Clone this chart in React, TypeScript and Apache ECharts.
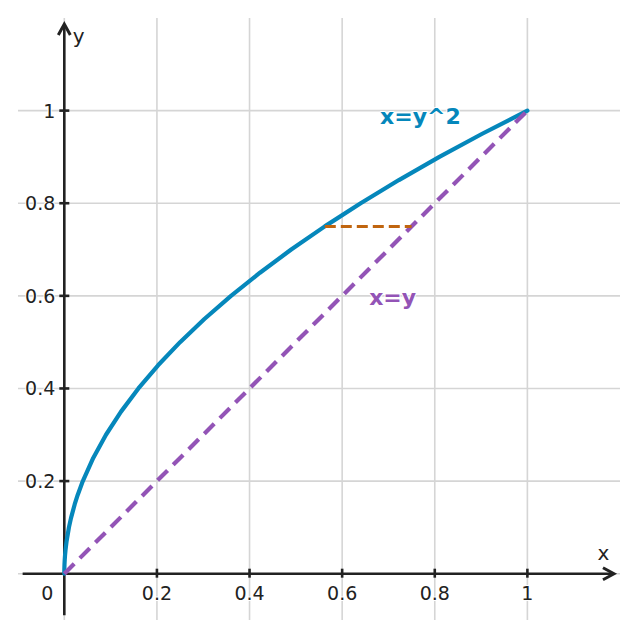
import React, { useEffect, useRef } from "react";
import * as echarts from "echarts";

// ---- data ----
const gridValues = [0, 0.2, 0.4, 0.6, 0.8, 1];
const tickValues = [0.2, 0.4, 0.6, 0.8, 1];
const tickLabels = ["0.2", "0.4", "0.6", "0.8", "1"];
// curve x = y^2 (points listed as [x, y])
const curvePoints: [number, number][] = [
  [0, 0], [0.000025, 0.005], [0.0001, 0.01], [0.0004, 0.02], [0.0009, 0.03], [0.0016, 0.04],
  [0.0025, 0.05], [0.0049, 0.07], [0.01, 0.1], [0.0144, 0.12], [0.0225, 0.15], [0.0289, 0.17],
  [0.04, 0.2], [0.0625, 0.25], [0.09, 0.3], [0.1225, 0.35], [0.16, 0.4], [0.2025, 0.45],
  [0.25, 0.5], [0.3025, 0.55], [0.36, 0.6], [0.4225, 0.65], [0.49, 0.7], [0.5625, 0.75],
  [0.64, 0.8], [0.7225, 0.85], [0.81, 0.9], [0.9025, 0.95], [1, 1],
];
const diagonalPoints: [number, number][] = [[0, 0], [1, 1]];
const levelPoints: [number, number][] = [[0.5625, 0.75], [0.75, 0.75]];
const curveLabel: [number, number, string] = [0.769, 0.987, "x=y^2"];
const diagLabel: [number, number, string] = [0.709, 0.597, "x=y"];
const axisNames: [number, number, string][] = [[1.164, 0.045, "x"], [0.031, 1.162, "y"]];

const BLUE = "#0587bb";
const PURPLE = "#9354b6";
const ORANGE = "#c0650f";
const AXIS = "#222222";
const GRID = "#d5d5d5";
const FONT = "DejaVu Sans";

export default function App() {
  const ref = useRef<HTMLDivElement>(null);
  useEffect(() => {
    if (!ref.current) return;
    const chart = echarts.init(ref.current, null, { renderer: "svg" });
    const tickLabelStyle = {
      show: true, position: "inside",
      formatter: (p: any) => p.value[2],
      color: "#222", fontFamily: FONT, fontSize: 19,
      textBorderColor: "#fff", textBorderWidth: 2,
    };
    const option: any = {
      animation: false,
      backgroundColor: "#ffffff",
      grid: { left: 18, right: 18, top: 18, bottom: 18 },
      xAxis: {
        type: "value", min: -0.1, max: 1.2,
        axisLine: { show: false }, axisTick: { show: false },
        axisLabel: { show: false }, splitLine: { show: false },
      },
      yAxis: {
        type: "value", min: -0.1, max: 1.2,
        axisLine: { show: false }, axisTick: { show: false },
        axisLabel: { show: false }, splitLine: { show: false },
      },
      series: [
        {
          type: "custom", z: 1, silent: true,
          data: gridValues.map((v) => [v]),
          renderItem: (params: any, api: any) => {
            const v = api.value(0);
            const a = api.coord([v, -0.1]);
            const b = api.coord([v, 1.2]);
            const c = api.coord([-0.1, v]);
            const d = api.coord([1.2, v]);
            return {
              type: "group",
              children: [
                { type: "line", shape: { x1: a[0], y1: a[1], x2: b[0], y2: b[1] }, style: { stroke: GRID, lineWidth: 1.6 } },
                { type: "line", shape: { x1: c[0], y1: c[1], x2: d[0], y2: d[1] }, style: { stroke: GRID, lineWidth: 1.6 } },
              ],
            };
          },
        },
        {
          type: "custom", z: 3, silent: true,
          data: [[0]],
          renderItem: (params: any, api: any) => {
            const o = api.coord([0, 0]);
            const xl = api.coord([-0.09, 0]);
            const xr = api.coord([1.187, 0]);
            const yb = api.coord([0, -0.09]);
            const yt = api.coord([0, 1.187]);
            const st = { stroke: AXIS, lineWidth: 2.6, fill: "none" };
            return {
              type: "group",
              children: [
                { type: "line", shape: { x1: xl[0], y1: o[1], x2: xr[0] - 1, y2: o[1] }, style: st },
                { type: "line", shape: { x1: o[0], y1: yb[1], x2: o[0], y2: yt[1] + 1 }, style: st },
                { type: "polyline", shape: { points: [[xr[0] - 11, o[1] - 6], [xr[0], o[1]], [xr[0] - 11, o[1] + 6]] }, style: { ...st, lineWidth: 3 } },
                { type: "polyline", shape: { points: [[o[0] - 6, yt[1] + 11], [o[0], yt[1]], [o[0] + 6, yt[1] + 11]] }, style: { ...st, lineWidth: 3 } },
              ],
            };
          },
        },
        {
          type: "custom", z: 3, silent: true,
          data: tickValues.map((v) => [v]),
          renderItem: (params: any, api: any) => {
            const v = api.value(0);
            const p = api.coord([v, 0]);
            const q = api.coord([0, v]);
            const st = { stroke: AXIS, lineWidth: 2.6 };
            return {
              type: "group",
              children: [
                { type: "line", shape: { x1: p[0], y1: p[1] - 5, x2: p[0], y2: p[1] + 4 }, style: st },
                { type: "line", shape: { x1: q[0] - 5, y1: q[1], x2: q[0] + 5, y2: q[1] }, style: st },
              ],
            };
          },
        },
        {
          type: "line", z: 4, showSymbol: false, silent: true,
          data: curvePoints,
          lineStyle: { color: BLUE, width: 4.2, cap: "round", join: "round" },
        },
        {
          type: "line", z: 5, showSymbol: false, silent: true,
          data: diagonalPoints,
          lineStyle: { color: PURPLE, width: 4.2, type: [14, 8] },
        },
        {
          type: "line", z: 5, showSymbol: false, silent: true,
          data: levelPoints,
          lineStyle: { color: ORANGE, width: 3, type: [11, 5] },
        },
        {
          type: "scatter", z: 6, symbolSize: 0, silent: true, itemStyle: { opacity: 1 },
          data: tickValues.map((v, i) => [v, 0, tickLabels[i]]).concat([[0, 0, "0"]] as any),
          label: tickLabelStyle,
          labelLayout: (p: any) => (p.dataIndex === tickValues.length ? { dx: -17, dy: 19 } : { dy: 19 }),
        },
        {
          type: "scatter", z: 6, symbolSize: 0, silent: true, itemStyle: { opacity: 1 },
          data: tickValues.map((v, i) => [0, v, tickLabels[i]]),
          label: { ...tickLabelStyle, align: "right" },
          labelLayout: () => ({ dx: -9 }),
        },
        {
          type: "scatter", z: 7, symbolSize: 0, silent: true, itemStyle: { opacity: 1 },
          data: axisNames,
          label: {
            show: true, position: "inside",
            formatter: (p: any) => p.value[2],
            color: "#222", fontFamily: FONT, fontSize: 20,
          },
        },
        {
          type: "scatter", z: 8, symbolSize: 0, silent: true, itemStyle: { opacity: 1 },
          data: [
            { value: curveLabel, label: { color: BLUE } },
            { value: diagLabel, label: { color: PURPLE } },
          ],
          label: {
            show: true, position: "inside",
            formatter: (p: any) => p.value[2],
            fontFamily: FONT, fontSize: 22, fontWeight: "bold",
            textBorderColor: "#fff", textBorderWidth: 2,
          },
        },
      ],
    };
    chart.setOption(option);
    return () => chart.dispose();
  }, []);
  return <div ref={ref} style={{ width: 638, height: 638, position: "fixed", left: 0, top: 0 }} />;
}
